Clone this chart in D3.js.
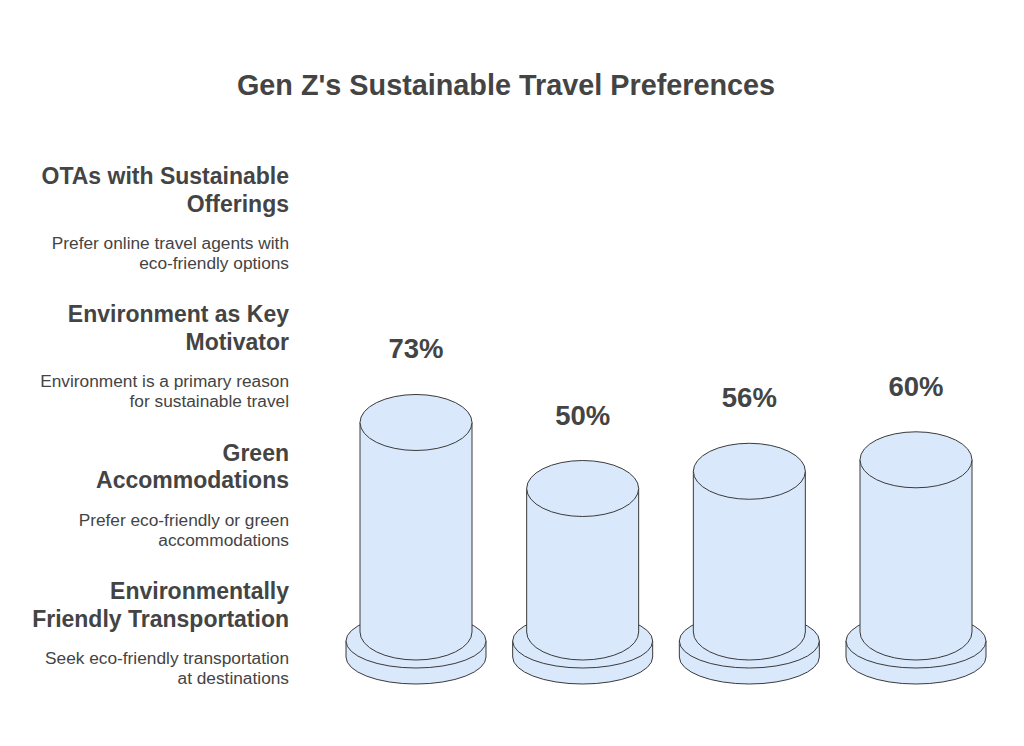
<!DOCTYPE html>
<html>
<head>
<meta charset="utf-8">
<script src="https://cdn.jsdelivr.net/npm/d3@7"></script>
<style>
  body { margin: 0; background: #fff; }
  svg { display: block; font-family: "Liberation Sans", Arial, sans-serif; }
</style>
</head>
<body>
<div id="chart"></div>
<script>
// data
const title = "Gen Z's Sustainable Travel Preferences";
const categories = ['OTAs', 'Environment', 'Green', 'Transport'];
const values = [73, 50, 56, 60];
const headings = [
    ['OTAs with Sustainable', 'Offerings'],
    ['Environment as Key', 'Motivator'],
    ['Green', 'Accommodations'],
    ['Environmentally', 'Friendly Transportation']
];
const descriptions = [
    ['Prefer online travel agents with', 'eco-friendly options'],
    ['Environment is a primary reason', 'for sustainable travel'],
    ['Prefer eco-friendly or green', 'accommodations'],
    ['Seek eco-friendly transportation', 'at destinations']
];

const width = 1024, height = 746;
const textColor = '#444';
const fill = '#dae8fc';
const stroke = '#3a3a3a';

const svg = d3.select('#chart').append('svg')
    .attr('width', width)
    .attr('height', height);

svg.append('text')
    .attr('x', 506)
    .attr('y', 95)
    .attr('text-anchor', 'middle')
    .attr('font-size', 28.8)
    .attr('font-weight', 'bold')
    .attr('fill', textColor)
    .text(title);

// left side text blocks
const groupY = d3.scalePoint().domain(categories).range([184, 599]);

const blocks = svg.append('g').selectAll('g')
    .data(categories)
    .enter().append('g')
    .attr('transform', d => `translate(289,${groupY(d)})`);

blocks.each(function(d, i) {
    const g = d3.select(this);
    headings[i].forEach((line, j) => {
        g.append('text')
            .attr('y', j * 27.5)
            .attr('text-anchor', 'end')
            .attr('font-size', 23)
            .attr('font-weight', 'bold')
            .attr('fill', textColor)
            .text(line);
    });
    descriptions[i].forEach((line, j) => {
        g.append('text')
            .attr('y', 65 + j * 20)
            .attr('text-anchor', 'end')
            .attr('font-size', 17.3)
            .attr('fill', textColor)
            .text(line);
    });
});

// cylinders
const x = d3.scalePoint().domain(categories).range([416, 916]);
const y = d3.scaleLinear().domain([0, 100]).range([632, 345]);

const rx = 56, ry = 28;       // body
const brx = 70, bry = 27;     // base
const baseTop = 641, baseBottom = 657;

const cyl = svg.append('g').selectAll('g')
    .data(categories.map((c, i) => ({ c, v: values[i] })))
    .enter().append('g');

// base side
cyl.append('path')
    .attr('d', d => {
        const cx = x(d.c);
        return `M${cx - brx},${baseTop} L${cx - brx},${baseBottom} ` +
            `A${brx},${bry} 0 0 0 ${cx + brx},${baseBottom} L${cx + brx},${baseTop} Z`;
    })
    .attr('fill', fill)
    .attr('stroke', stroke)
    .attr('stroke-width', 1);

// base top
cyl.append('ellipse')
    .attr('cx', d => x(d.c))
    .attr('cy', baseTop)
    .attr('rx', brx)
    .attr('ry', bry)
    .attr('fill', fill)
    .attr('stroke', stroke)
    .attr('stroke-width', 1);

// body
cyl.append('path')
    .attr('d', d => {
        const cx = x(d.c), top = y(d.v), bottom = y(0);
        return `M${cx - rx},${top} L${cx - rx},${bottom} ` +
            `A${rx},${ry} 0 0 0 ${cx + rx},${bottom} L${cx + rx},${top} Z`;
    })
    .attr('fill', fill)
    .attr('stroke', stroke)
    .attr('stroke-width', 1);

// top
cyl.append('ellipse')
    .attr('cx', d => x(d.c))
    .attr('cy', d => y(d.v))
    .attr('rx', rx)
    .attr('ry', ry)
    .attr('fill', fill)
    .attr('stroke', stroke)
    .attr('stroke-width', 1);

// value labels
cyl.append('text')
    .attr('x', d => x(d.c))
    .attr('y', d => y(d.v) - ry - 36)
    .attr('text-anchor', 'middle')
    .attr('font-size', 27.5)
    .attr('font-weight', 'bold')
    .attr('fill', textColor)
    .text(d => d.v + '%');
</script>
</body>
</html>
